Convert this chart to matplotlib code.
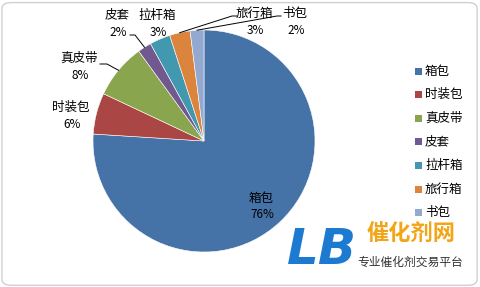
import numpy as np
import matplotlib.pyplot as plt
from matplotlib.patches import Rectangle, FancyBboxPatch
from matplotlib.lines import Line2D

plt.rcParams['font.family'] = ['Noto Sans CJK SC', 'DejaVu Sans']

categories = ['箱包', '时装包', '真皮带', '皮套', '拉杆箱', '旅行箱', '书包']
shares = [76, 6, 8, 2, 3, 3, 2]
colors = ['#4572A7', '#AA4643', '#89A54E', '#71588F', '#4198AF', '#DB843D', '#93A9CF']

W, H = 480, 287
# label anchor spots (pixels), and leader lines (label end, knee) per slice
label_pos = [(261, 198), (71, 107), (79, 58), (117, 15), (157, 15), (254, 13), (295, 13)]
leaders = {2: ((100, 64), (107, 64)), 3: ((130, 35), (135, 35)),
           5: ((237, 16), (232, 16)), 6: ((281, 16), (277, 16))}

def fx(x):
    return x / W

def fy(y):
    return 1 - y / H

fig = plt.figure(figsize=(4.8, 2.87), dpi=100)

# outer frame
fig.patches.append(FancyBboxPatch((0.004, 0.006), 0.99, 0.985, boxstyle="round,pad=0,rounding_size=0.02",
                                  transform=fig.transFigure, fc='white', ec='#D0D0D0', lw=1.0, zorder=-5))

cx, cy, r = 204, 141, 111
ax = fig.add_axes([fx(cx - r), fy(cy + r), 2 * r / W, 2 * r / H])
ax.set_zorder(1)
ax.patch.set_visible(False)
wedges, _ = ax.pie(shares, colors=colors, startangle=90, counterclock=False,
                   wedgeprops=dict(linewidth=0.4, edgecolor='white'))
ax.set_xlim(-1, 1)
ax.set_ylim(-1, 1)
ax.axis('off')

for i, (name, val) in enumerate(zip(categories, shares)):
    lx, ly = label_pos[i]
    fig.text(fx(lx), fy(ly), name, ha='center', va='center', fontsize=9, color='black', zorder=3)
    fig.text(fx(lx + 1), fy(ly + 17), f'{val}%', ha='center', va='center', fontsize=8.5,
             color='black', zorder=3)
    if i in leaders:
        w = wedges[i]
        mid = np.deg2rad((w.theta1 + w.theta2) / 2)
        px, py = cx + r * np.cos(mid), cy - r * np.sin(mid)
        (sx, sy), (kx, ky) = leaders[i]
        fig.add_artist(Line2D([fx(sx), fx(kx), fx(px)], [fy(sy), fy(ky), fy(py)],
                              transform=fig.transFigure, color='black', lw=0.7, zorder=3))

# legend
for i, (name, c) in enumerate(zip(categories, colors)):
    y = 71 + i * 23.6
    fig.patches.append(Rectangle((fx(415), fy(y + 3.5)), 7 / W, 7 / H, transform=fig.transFigure,
                                 fc=c, ec='none', zorder=3))
    fig.text(fx(425), fy(y), name, ha='left', va='center', fontsize=9, color='black', zorder=3)

# watermark logo block (covers the bottom of the last legend entry)
fig.patches.append(Rectangle((fx(285), fy(283)), 190 / W, 64 / H, transform=fig.transFigure,
                             fc='white', ec='none', zorder=5))
fig.text(fx(322), fy(250), 'LB', ha='center', va='center', fontsize=36, fontweight='bold',
         style='italic', color='#1C7BD0', family='DejaVu Sans', zorder=6)
fig.text(fx(411), fy(234), '催化剂网', ha='center', va='center', fontsize=16, fontweight='bold',
         color='#F2A516', zorder=6)
fig.text(fx(410), fy(262), '专业催化剂交易平台', ha='center', va='center', fontsize=8.5,
         color='#333333', zorder=6)

fig.savefig('out.png', dpi=100)
